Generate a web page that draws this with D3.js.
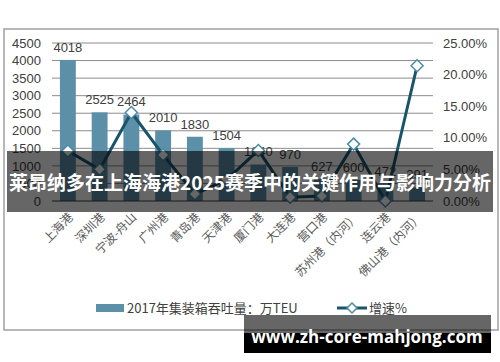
<!DOCTYPE html>
<html><head><meta charset="utf-8">
<script src="https://cdn.jsdelivr.net/npm/d3@7"></script>
<style>
html,body{margin:0;padding:0;background:#fff;}
svg{display:block;font-family:Arial,"Liberation Sans","Noto Sans CJK SC",sans-serif;}
</style></head><body>
<svg id="c" width="500" height="362"></svg>
<script>
const categories = ["上海港","深圳港","宁波-舟山","广州港","青岛港","天津港","厦门港","大连港","营口港","苏州港（内河）","连云港","佛山港（内河）"];
const throughput = [4018,2525,2464,2010,1830,1504,1040,970,627,600,472,391];
const growth = [7.9,5.0,14.0,7.3,1.1,3.4,8.0,0.6,0.8,9.0,0.0,21.4];
const leftTicks = [0,500,1000,1500,2000,2500,3000,3500,4000,4500];
const rightTicks = [0,5,10,15,20,25];
const seriesNames = ["2017年集装箱吞吐量：万TEU","增速%"];
const titleText = "莱昂纳多在上海海港2025赛季中的关键作用与影响力分析";
const watermark = "www.zh-core-mahjong.com";

const svg = d3.select("#c");
const barColor = "#5b90a8", lineColor = "#18556b", markerStroke = "#4d8ca6", textColor = "#404040";
const plot = {l:52, r:433, t:43, b:201};

svg.append("rect").attr("x",4).attr("y",29).attr("width",494).attr("height",301)
  .attr("fill","#fff").attr("stroke","#a0a0a0").attr("stroke-width",1.5);

const x = d3.scaleBand().domain(categories).range([plot.l, plot.r]).paddingInner(0.5).paddingOuter(0.25);
const yL = d3.scaleLinear().domain([0,4500]).range([plot.b, plot.t]);
const yR = d3.scaleLinear().domain([0,25]).range([plot.b, plot.t]);

// gridlines
svg.append("g").selectAll("line").data(leftTicks.filter(d=>d>0)).join("line")
  .attr("x1",plot.l).attr("x2",plot.r).attr("y1",d=>yL(d)).attr("y2",d=>yL(d))
  .attr("stroke","#8c8c8c").attr("stroke-width",1);

// left axis
const axL = d3.axisLeft(yL).tickValues(leftTicks).tickSize(0).tickPadding(11).tickFormat(d3.format("d"));
const gL = svg.append("g").attr("transform",`translate(${plot.l},0)`).call(axL);
gL.select(".domain").remove();
gL.selectAll("text").attr("fill",textColor).attr("font-size",13);

// right axis
const axR = d3.axisRight(yR).tickValues(rightTicks).tickSize(0).tickPadding(10).tickFormat(d=>d3.format(".2f")(d)+"%");
const gR = svg.append("g").attr("transform",`translate(${plot.r},0)`).call(axR);
gR.select(".domain").remove();
gR.selectAll("text").attr("fill",textColor).attr("font-size",13);

// bars
svg.append("g").selectAll("rect").data(throughput).join("rect")
  .attr("x",(d,i)=>x(categories[i])).attr("width",x.bandwidth())
  .attr("y",d=>yL(d)).attr("height",d=>plot.b-yL(d)).attr("fill",barColor);

// baseline
svg.append("line").attr("x1",plot.l).attr("x2",plot.r).attr("y1",plot.b).attr("y2",plot.b)
  .attr("stroke","#404040").attr("stroke-width",1.2);

// bar labels
svg.append("g").selectAll("text").data(throughput).join("text")
  .attr("x",(d,i)=>x(categories[i])+x.bandwidth()/2).attr("y",d=>yL(d)-8)
  .attr("text-anchor","middle").attr("font-size",13).attr("fill",textColor).text(d=>d);

// line
const cx = i => x(categories[i])+x.bandwidth()/2;
const line = d3.line().x((d,i)=>cx(i)).y(d=>yR(d));
svg.append("path").datum(growth).attr("d",line).attr("fill","none")
  .attr("stroke",lineColor).attr("stroke-width",3).attr("stroke-linejoin","round");
svg.append("g").selectAll("path").data(growth).join("path")
  .attr("d","M0,-6L6,0L0,6L-6,0Z")
  .attr("transform",(d,i)=>`translate(${cx(i)},${yR(d)})`)
  .attr("fill","#fff").attr("stroke",markerStroke).attr("stroke-width",1.5);

// x labels
svg.append("g").selectAll("text").data(categories).join("text")
  .attr("transform",(d)=>`translate(${x(d)+x.bandwidth()/2+3},${plot.b+14}) rotate(-45)`)
  .attr("text-anchor","end").attr("dy","0.35em").attr("font-size",12).attr("fill","#5a5a5a")
  .attr("font-family","'Noto Sans CJK SC',sans-serif").text(d=>d);

// legend
const lg = svg.append("g").attr("font-family","'Noto Sans CJK SC',sans-serif");
lg.append("rect").attr("x",96).attr("y",304).attr("width",28).attr("height",8).attr("fill",barColor);
lg.append("text").attr("x",127).attr("y",308).attr("dy","0.35em").attr("font-size",13).attr("fill",textColor).text(seriesNames[0]);
lg.append("line").attr("x1",337).attr("x2",367).attr("y1",308).attr("y2",308).attr("stroke",lineColor).attr("stroke-width",3);
lg.append("path").attr("d","M0,-5L5,0L0,5L-5,0Z").attr("transform","translate(352,308)")
  .attr("fill","#fff").attr("stroke",markerStroke).attr("stroke-width",1.5);
lg.append("text").attr("x",369).attr("y",308).attr("dy","0.35em").attr("font-size",13).attr("fill",textColor).text(seriesNames[1]);

// title overlay banner
svg.append("rect").attr("x",7).attr("y",151).attr("width",486).attr("height",61).attr("fill","rgba(0,0,0,0.6)");
svg.append("text").attr("x",250).attr("y",183).attr("dy","0.35em").attr("text-anchor","middle")
  .attr("font-family","'Noto Sans CJK SC',sans-serif").attr("font-weight","bold").attr("font-size",19)
  .attr("fill","#fff").text(titleText);

// watermark
svg.append("rect").attr("x",244).attr("y",315).attr("width",247).attr("height",18).attr("fill","rgba(0,0,0,0.6)");
svg.append("rect").attr("x",244).attr("y",333).attr("width",247).attr("height",20).attr("fill","#000");
svg.append("text").attr("x",367).attr("y",337).attr("dy","0.35em").attr("text-anchor","middle")
  .attr("font-family","'Open Sans','DejaVu Sans',sans-serif").attr("font-weight","bold").attr("font-size",17)
  .attr("fill","#fff").text(watermark);
</script>
</body></html>
